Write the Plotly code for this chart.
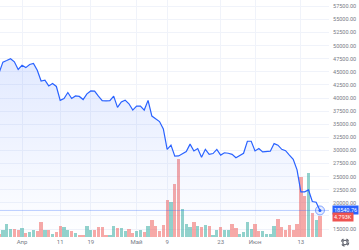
import pandas as pd
import plotly.graph_objects as go

# ---------------- data ----------------
start_date = "2022-03-26"
end_date = "2022-06-18"

close_mar = [44800, 46850, 47150, 47500, 46900, 45450]
close_apr = [46250, 45800, 46400, 46600, 45300, 43250, 43400, 42300, 42750, 42200,
             39550, 39900, 41050, 39900, 40400, 40300, 39700, 40800, 41350, 41300,
             40350, 39500, 39450, 39500, 40350, 38200, 39250, 39600, 38900, 37700]
close_may = [38450, 38450, 37700, 39550, 36550, 36000, 35500, 34100, 30200, 31000,
             28900, 28950, 29300, 29800, 31200, 29900, 30350, 28700, 30200, 29250,
             29400, 30200, 29100, 29550, 29450, 29250, 28600, 29100, 29450, 31750,
             31750]
close_jun = [29900, 30350, 29700, 29800, 29850, 31300, 31000, 30200, 29950, 29100,
             28300, 26300, 22100, 22100, 22450, 20250, 20100, 18540.76]

# volume in thousands (K)
vol_mar = [0.70, 1.70, 3.02, 1.93, 1.86, 1.54]
vol_apr = [2.16, 0.84, 1.23, 1.70, 1.30, 3.40, 1.54, 1.63, 0.70, 1.07,
           2.56, 2.33, 1.70, 1.30, 0.84, 0.47, 0.47, 2.63, 1.70, 1.54,
           2.40, 2.40, 0.47, 0.54, 2.47, 2.00, 2.09, 1.40, 1.86, 0.93]
vol_may = [1.30, 1.54, 1.23, 2.47, 4.03, 2.63, 1.30, 2.86, 8.52, 8.14,
           12.40, 18.22, 6.59, 3.09, 2.33, 3.40, 2.63, 2.33, 2.79, 2.47,
           0.54, 1.54, 2.33, 1.70, 1.70, 3.09, 2.09, 0.77, 1.07, 3.56,
           1.86]
vol_jun = [3.09, 1.30, 1.40, 0.60, 0.60, 2.63, 4.19, 2.33, 1.54, 2.86,
           1.70, 2.93, 13.96, 9.45, 14.89, 5.58, 4.03, 4.793]

# candle direction for volume colouring: t = up, d = down
dir_mar = "dtttdd"
dir_apr = "tdttddtdtddttdtddttddddttdttdd"
dir_may = "ttdtdddddtddtttdtdtdttdttddtttt"
dir_jun = "ddttttddddddddtdtd"

tick_dates = ["2022-04-01", "2022-04-11", "2022-04-19", "2022-05-01",
              "2022-05-09", "2022-05-23", "2022-06-01", "2022-06-13"]
tick_text = ["Апр", "11", "19", "Май", "9", "23", "Июн", "13"]

price_ticks = list(range(15000, 57501, 2500))
hidden_tick = 17500  # covered by the last-price label in the reference
price_tick_text = ["" if v == hidden_tick else f"{v}.00" for v in price_ticks]

last_price_label = "18540.76"
last_volume_label = "4.793K"

# ---------------- build ----------------
dates = pd.date_range(start_date, end_date, freq="D")
closes = close_mar + close_apr + close_may + close_jun
vols = vol_mar + vol_apr + vol_may + vol_jun
dirs = dir_mar + dir_apr + dir_may + dir_jun
assert len(dates) == len(closes) == len(vols) == len(dirs), (len(dates), len(closes), len(vols), len(dirs))

UP = "rgba(38,166,154,0.5)"
DOWN = "rgba(239,83,80,0.5)"
bar_colors = [UP if c == "t" else DOWN for c in dirs]

BLUE = "#2962ff"
TXT = "#787b86"
GRID = "#f0f3fa"

# plot geometry (pixels)
W, H = 359, 250
ML, MR, MT, MB = 0, 30, 0, 13
plot_w = W - ML - MR
plot_h = H - MT - MB
px_per_day = 3.82
apr1_px = 22
apr1 = pd.Timestamp("2022-04-01")
x0 = apr1 - pd.Timedelta(days=apr1_px / px_per_day)
x1 = apr1 + pd.Timedelta(days=(plot_w - apr1_px) / px_per_day)

# price axis: 15000 at y=229, 57500 at y=6.3 (from top)
ppx = (229 - 6.3) / (57500 - 15000)
p_lo = 15000 - (plot_h - 229) / ppx
p_hi = 57500 + 6.3 / ppx
vol_per_px = 4.793 / 20.6
v_hi = plot_h * vol_per_px

fig = go.Figure()

fig.add_trace(go.Bar(
    x=dates, y=vols, marker=dict(color=bar_colors, line=dict(width=0)),
    width=0.86 * 86400000, yaxis="y", hoverinfo="skip", showlegend=False,
))

fig.add_trace(go.Scatter(
    x=dates, y=closes, mode="lines", yaxis="y2",
    line=dict(color=BLUE, width=1.2),
    fill="tozeroy",
    fillgradient=dict(type="vertical", start=p_lo, stop=48000,
                      colorscale=[[0, "rgba(41,98,255,0.0)"], [1, "rgba(41,98,255,0.14)"]]),
    hoverinfo="skip", showlegend=False,
))

fig.add_trace(go.Scatter(
    x=[dates[-1]], y=[closes[-1]], mode="markers", yaxis="y2",
    marker=dict(size=9, color="rgba(41,98,255,0.12)", line=dict(color="rgba(41,98,255,0.55)", width=1)),
    hoverinfo="skip", showlegend=False,
))
fig.add_trace(go.Scatter(
    x=[dates[-1]], y=[closes[-1]], mode="markers", yaxis="y2",
    marker=dict(size=3, color=BLUE), hoverinfo="skip", showlegend=False,
))

fig.add_shape(type="line", xref="paper", x0=0, x1=1, yref="y2",
              y0=closes[-1], y1=closes[-1],
              line=dict(color="rgba(41,98,255,0.3)", width=1))

fig.add_annotation(xref="paper", x=1, xanchor="left", xshift=3,
                   yref="y2", y=closes[-1], yanchor="middle",
                   text=last_price_label, showarrow=False,
                   font=dict(size=5.5, color="white", family="Roboto"),
                   bgcolor=BLUE, borderpad=1)
fig.add_annotation(xref="paper", x=1, xanchor="left", xshift=3,
                   yref="y2", y=closes[-1], yanchor="middle", yshift=-7,
                   text=last_volume_label, showarrow=False,
                   font=dict(size=5.5, color="white", family="Roboto"),
                   bgcolor="#ef5350", borderpad=1)

# settings gear icon (drawn with shapes)
gx = (345 - ML) / plot_w
gy = -(242.5 - plot_h) / plot_h
rx_in = 2.2 / plot_w
ry_in = 2.2 / plot_h
rx_out = 3.6 / plot_w
ry_out = 3.6 / plot_h
fig.add_shape(type="circle", xref="paper", yref="paper",
              x0=gx - rx_in, x1=gx + rx_in, y0=gy - ry_in, y1=gy + ry_in,
              line=dict(color="#5d606b", width=1.1), fillcolor="rgba(0,0,0,0)")
fig.add_shape(type="circle", xref="paper", yref="paper",
              x0=gx - rx_out, x1=gx + rx_out, y0=gy - ry_out, y1=gy + ry_out,
              line=dict(color="#5d606b", width=1.4, dash="dot"), fillcolor="rgba(0,0,0,0)")

fig.update_layout(
    width=W, height=H,
    margin=dict(l=ML, r=MR, t=MT, b=MB, pad=0),
    paper_bgcolor="white", plot_bgcolor="white",
    showlegend=False, bargap=0,
    font=dict(family="Roboto", color=TXT),
    xaxis=dict(type="date", range=[x0, x1], tickvals=tick_dates, ticktext=tick_text,
               tickfont=dict(size=6, color=TXT), showgrid=True, gridcolor=GRID,
               gridwidth=1, zeroline=False, showline=False, ticks="", ticklen=0),
    yaxis=dict(range=[0, v_hi], visible=False, showgrid=False, fixedrange=True),
    yaxis2=dict(overlaying="y", side="right", range=[p_lo, p_hi],
                tickvals=price_ticks, ticktext=price_tick_text,
                tickfont=dict(size=5.5, color=TXT), showgrid=True, gridcolor=GRID,
                gridwidth=1, zeroline=False, showline=False, ticks="outside",
                ticklen=2, tickcolor="rgba(0,0,0,0)"),
)

fig.write_html("out.html")
